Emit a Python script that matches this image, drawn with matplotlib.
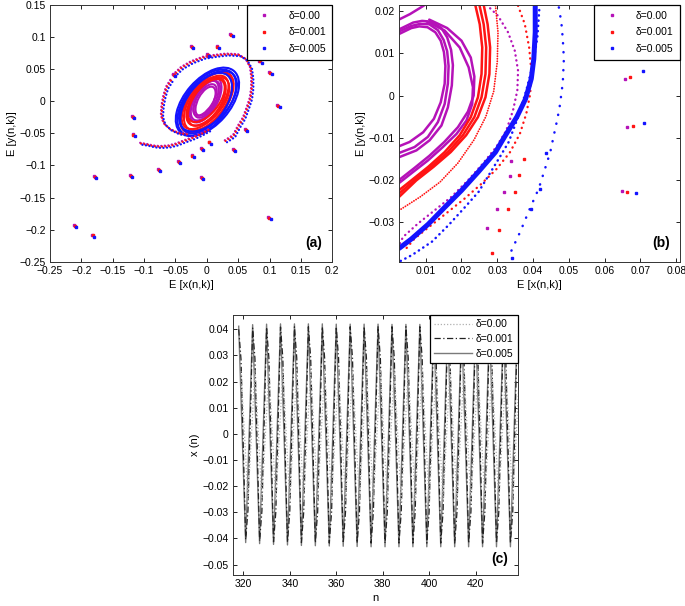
import matplotlib
matplotlib.use("Agg")
import matplotlib.pyplot as plt
from matplotlib.patches import Ellipse
from matplotlib.transforms import offset_copy
from matplotlib.ticker import MultipleLocator, FuncFormatter

plt.rcParams["font.family"] = ["Liberation Sans", "DejaVu Sans"]
plt.rcParams["font.size"] = 7.5

MAG = "#b512b8"
RED = "#ff1414"
BLU = "#1414ff"
labels = ["δ=0.00", "δ=0.001", "δ=0.005"]

# ---------------- panel (a) data ----------------
# ellipse rings: centre x, centre y, width, height, angle
mag_cx = [-0.002, -0.002, -0.001, -0.003, -0.002]
mag_cy = [0.002, 0.001, 0.003, 0.002, 0.000]
mag_w = [0.078, 0.070, 0.063, 0.056, 0.050]
mag_h = [0.038, 0.034, 0.030, 0.026, 0.024]
mag_ang = [60, 58, 62, 57, 61]

red_cx = [0.000, 0.002, -0.002, 0.001, 0.000, -0.001]
red_cy = [-0.002, 0.000, -0.003, 0.001, -0.001, 0.001]
red_w = [0.114, 0.106, 0.099, 0.092, 0.086, 0.080]
red_h = [0.058, 0.054, 0.050, 0.046, 0.043, 0.040]
red_ang = [50, 53, 48, 52, 55, 51]

blu_cx = [0.001, 0.000, 0.002, -0.001]
blu_cy = [-0.001, -0.002, 0.000, -0.003]
blu_w = [0.128, 0.122, 0.116, 0.110]
blu_h = [0.072, 0.067, 0.063, 0.060]
blu_ang = [48, 50, 46, 52]

# spiral arms (dotted)
armU_x = [-0.053, -0.040, -0.024, -0.005, 0.014, 0.032, 0.051, 0.063, 0.070, 0.072,
          0.072, 0.070, 0.065, 0.059, 0.051, 0.043, 0.030]
armU_y = [0.040, 0.052, 0.061, 0.068, 0.071, 0.073, 0.072, 0.065, 0.052, 0.037,
          0.021, 0.005, -0.010, -0.026, -0.039, -0.054, -0.062]
armL_x = [-0.057, -0.064, -0.068, -0.071, -0.072, -0.068, -0.058, -0.045, -0.030]
armL_y = [0.032, 0.021, 0.008, -0.007, -0.023, -0.035, -0.044, -0.050, -0.052]
armB_x = [-0.105, -0.0955, -0.085, -0.074, -0.060, -0.048, -0.035, -0.021, -0.008, 0.005]
armB_y = [-0.066, -0.0675, -0.070, -0.071, -0.070, -0.067, -0.062, -0.057, -0.051, -0.044]

# isolated points
pts_x = [0.039, -0.024, 0.017, 0.002, -0.053, 0.085, 0.101, 0.114, 0.062, 0.043,
         0.004, -0.008, -0.023, -0.045, -0.077, -0.121, -0.117, -0.118, -0.008,
         -0.179, -0.210, -0.182, 0.0995, 0.200]
pts_y = [0.103, 0.085, 0.085, 0.072, 0.041, 0.062, 0.044, -0.007, -0.045, -0.076,
         -0.064, -0.074, -0.085, -0.095, -0.107, -0.116, -0.052, -0.024, -0.120,
         -0.118, -0.194, -0.209, -0.182, 0.100]

# ---------------- panel (b) data ----------------
mb_top_x = [0.0025, 0.0056, 0.0083, 0.0111]
mb_top_y = [0.0180, 0.0193, 0.0207, 0.0222]
mb_loopA_x = [0.0026, 0.0060, 0.0085, 0.0110, 0.0134, 0.0150, 0.0160, 0.0164, 0.0162, 0.0153,
              0.0134, 0.0106, 0.0069, 0.0026]
mb_loopA_y = [0.0152, 0.0165, 0.0170, 0.0169, 0.0155, 0.0132, 0.0105, 0.0070, 0.0028, -0.0020,
              -0.0063, -0.0098, -0.0122, -0.0136]
mb_loopB_x = [0.0026, 0.0065, 0.0090, 0.0115, 0.0144, 0.0160, 0.0171, 0.0176, 0.0173, 0.0162,
              0.0144, 0.0111, 0.0074, 0.0026]
mb_loopB_y = [0.0157, 0.0173, 0.0177, 0.0175, 0.0160, 0.0138, 0.0108, 0.0072, 0.0024, -0.0028,
              -0.0071, -0.0106, -0.0130, -0.0146]
mb_loopC_x = [0.0026, 0.0060, 0.0082, 0.0105, 0.0127, 0.0142, 0.0151, 0.0155, 0.0153, 0.0142,
              0.0123, 0.0093, 0.0055, 0.0026]
mb_loopC_y = [0.0146, 0.0160, 0.0164, 0.0162, 0.0150, 0.0130, 0.0103, 0.0070, 0.0028, -0.0016,
              -0.0055, -0.0087, -0.0110, -0.0120]
mb_out1_x = [0.0102, 0.0153, 0.0195, 0.0220, 0.0232, 0.0230, 0.0214, 0.0186, 0.0148, 0.0106, 0.0065, 0.0026]
mb_out1_y = [0.0176, 0.0154, 0.0114, 0.0067, 0.0020, -0.0020, -0.0059, -0.0091, -0.0122, -0.0154, -0.0181, -0.0207]
mb_out2_x = [0.0026, 0.0068, 0.0110, 0.0152, 0.0190, 0.0218, 0.0234, 0.0236, 0.0226, 0.0200, 0.0160, 0.0110]
mb_out2_y = [-0.0200, -0.0172, -0.0143, -0.0110, -0.0075, -0.0038, 0.0000, 0.0045, 0.0090, 0.0130, 0.0160, 0.0180]

rb1_x = [0.0239, 0.0251, 0.0258, 0.0256, 0.0246, 0.0226, 0.0195, 0.0153, 0.0107, 0.0060, 0.0026]
rb1_y = [0.0213, 0.0169, 0.0114, 0.0051, -0.0004, -0.0051, -0.0094, -0.0134, -0.0169, -0.0201, -0.0224]
rb2_x = [0.0250, 0.0262, 0.0269, 0.0267, 0.0256, 0.0236, 0.0204, 0.0162, 0.0115, 0.0068, 0.0026]
rb2_y = [0.0215, 0.0169, 0.0114, 0.0051, -0.0004, -0.0051, -0.0094, -0.0134, -0.0169, -0.0201, -0.0232]
rb3_x = [0.0262, 0.0273, 0.0280, 0.0278, 0.0267, 0.0246, 0.0213, 0.0170, 0.0122, 0.0074, 0.0026]
rb3_y = [0.0215, 0.0169, 0.0114, 0.0051, -0.0004, -0.0051, -0.0094, -0.0134, -0.0169, -0.0201, -0.0240]
rb_thin_x = [0.0295, 0.0302, 0.0300, 0.0290, 0.0268, 0.0235, 0.0190, 0.0140, 0.0085, 0.0026]
rb_thin_y = [0.0213, 0.0150, 0.0080, 0.0010, -0.0050, -0.0105, -0.0160, -0.0205, -0.0240, -0.0272]

md_x = [0.0270, 0.0302, 0.0330, 0.0349, 0.0358, 0.0356, 0.0344, 0.0325, 0.0297, 0.0260,
        0.0218, 0.0172, 0.0125, 0.0079, 0.0037, 0.0028]
md_y = [0.0215, 0.0189, 0.0150, 0.0106, 0.0059, 0.0012, -0.0035, -0.0083, -0.0122, -0.0161,
        -0.0201, -0.0240, -0.0272, -0.0303, -0.0335, -0.0350]
rd_x = [0.0358, 0.0377, 0.0389, 0.0395, 0.0392, 0.0381, 0.0363, 0.0335, 0.0297, 0.0256,
        0.0209, 0.0162, 0.0116, 0.0069, 0.0046]
rd_y = [0.0213, 0.0169, 0.0114, 0.0059, 0.0004, -0.0043, -0.0091, -0.0135, -0.0175, -0.0209,
        -0.0244, -0.0276, -0.0307, -0.0339, -0.0362]

bb_x = [0.0026, 0.0060, 0.0107, 0.0153, 0.0200, 0.0248, 0.0295, 0.0323, 0.0355, 0.0379,
        0.0395, 0.0402, 0.0406, 0.0406]
bb_y = [-0.0362, -0.0340, -0.0305, -0.0265, -0.0225, -0.0180, -0.0134, -0.0094, -0.0050, -0.0008,
        0.0040, 0.0087, 0.0150, 0.0215]
bd1_x = [0.0030, 0.0062, 0.0118, 0.0164, 0.0206, 0.0248, 0.0276, 0.0304, 0.0332, 0.0358,
         0.0381, 0.0400, 0.0412, 0.0418]
bd1_y = [-0.0392, -0.0378, -0.0346, -0.0307, -0.0268, -0.0228, -0.0189, -0.0150, -0.0110, -0.0051,
         0.0012, 0.0075, 0.0138, 0.0213]
bd2_x = [0.0472, 0.0479, 0.0483, 0.0486, 0.0483, 0.0479, 0.0474, 0.0467, 0.0458, 0.0448,
         0.0432, 0.0416, 0.0390, 0.0364, 0.0330]
bd2_y = [0.0209, 0.0173, 0.0134, 0.0087, 0.0031, 0.0004, -0.0028, -0.0059, -0.0094, -0.0134,
         -0.0177, -0.0220, -0.0270, -0.0323, -0.0385]

# sparse points in (b)
bm_x = [0.0339, 0.0335, 0.0320, 0.0300, 0.0270, 0.0656, 0.0662, 0.0648]
bm_y = [-0.0155, -0.0190, -0.0228, -0.0268, -0.0313, 0.0039, -0.0075, -0.0227]
br_x = [0.0375, 0.0362, 0.0350, 0.0330, 0.0305, 0.0285, 0.0672, 0.0678, 0.0661]
br_y = [-0.0150, -0.0188, -0.0228, -0.0270, -0.0318, -0.0372, 0.0045, -0.0071, -0.0228]
bbl_x = [0.0437, 0.0418, 0.0393, 0.0340, 0.0707, 0.0710, 0.0688]
bbl_y = [-0.0135, -0.0222, -0.0270, -0.0385, 0.0059, -0.0065, -0.0230]

# ---------------- panel (c) data ----------------
n_peak = [318, 324, 330, 336, 342, 348, 354, 360, 366, 372, 378, 384, 390, 396, 402, 408,
          414, 420, 426, 432, 438]
n_trough = [321, 327, 333, 339, 345, 351, 357, 363, 369, 375, 381, 387, 393, 399, 405, 411,
            417, 423, 429, 435]
x005_peak = [0.0412, 0.0418, 0.0420, 0.0421, 0.0421, 0.0421, 0.0421, 0.0420, 0.0420, 0.0420,
             0.0420, 0.0419, 0.0419, 0.0419, 0.0419, 0.0418, 0.0418, 0.0418, 0.0418, 0.0418, 0.0418]
x005_trough = [-0.0416, -0.0420, -0.0423, -0.0425, -0.0427, -0.0428, -0.0429, -0.0430, -0.0431,
               -0.0432, -0.0432, -0.0432, -0.0432, -0.0432, -0.0432, -0.0432, -0.0432, -0.0432,
               -0.0432, -0.0432]
x001_peak = [0.0400, 0.0405, 0.0408, 0.0409, 0.0410, 0.0410, 0.0410, 0.0410, 0.0410, 0.0410,
             0.0410, 0.0410, 0.0410, 0.0410, 0.0410, 0.0410, 0.0410, 0.0410, 0.0410, 0.0410, 0.0410]
x001_hi = [0.0285, 0.0288, 0.0290, 0.0290, 0.0290, 0.0290, 0.0290, 0.0290, 0.0290, 0.0290,
           0.0290, 0.0290, 0.0290, 0.0290, 0.0290, 0.0290, 0.0290, 0.0290, 0.0290, 0.0290, 0.0290]
x001_trough = [-0.0405, -0.0410, -0.0413, -0.0415, -0.0416, -0.0417, -0.0418, -0.0418, -0.0418,
               -0.0418, -0.0418, -0.0418, -0.0418, -0.0418, -0.0418, -0.0418, -0.0418, -0.0418,
               -0.0418, -0.0418]
x001_lo = [-0.0292, -0.0295, -0.0297, -0.0298, -0.0298, -0.0298, -0.0298, -0.0298, -0.0298,
           -0.0298, -0.0298, -0.0298, -0.0298, -0.0298, -0.0298, -0.0298, -0.0298, -0.0298,
           -0.0298, -0.0298]
x000_peak = [0.0240, 0.0245, 0.0248, 0.0250, 0.0250, 0.0250, 0.0250, 0.0250, 0.0250, 0.0250,
             0.0250, 0.0250, 0.0250, 0.0250, 0.0250, 0.0250, 0.0250, 0.0250, 0.0250, 0.0250, 0.0250]
x000_trough = [-0.0250, -0.0255, -0.0258, -0.0260, -0.0260, -0.0260, -0.0260, -0.0260, -0.0260,
               -0.0260, -0.0260, -0.0260, -0.0260, -0.0260, -0.0260, -0.0260, -0.0260, -0.0260,
               -0.0260, -0.0260]


def fmt(v, pos):
    if abs(v) < 1e-9:
        return "0"
    s = "%g" % round(v, 4)
    return s.replace("-", "\u2212")


def style_axes(ax):
    ax.tick_params(direction="in", top=True, right=True, length=3, width=0.6, labelsize=7.5, pad=3)
    for sp in ax.spines.values():
        sp.set_linewidth(0.7)
        sp.set_color("#333333")
    ax.xaxis.set_major_formatter(FuncFormatter(fmt))
    ax.yaxis.set_major_formatter(FuncFormatter(fmt))


def dotted(ax, x, y, color, lw=1.8, gap=1.5, **kw):
    ax.plot(x, y, color=color, lw=lw, ls=(0, (0.1, gap)), dash_capstyle="round", **kw)


def dot_legend(ax):
    hs = [plt.Line2D([], [], ls="none", marker="s", ms=1.8, color=c, mec=c) for c in (MAG, RED, BLU)]
    leg = ax.legend(hs, labels, loc="upper right", fontsize=7.5, frameon=True, fancybox=False,
                    borderaxespad=0.0, handlelength=2.2, handletextpad=1.2, borderpad=0.6,
                    labelspacing=0.6, numpoints=1, framealpha=1)
    leg.get_frame().set_edgecolor("black")
    leg.get_frame().set_linewidth(0.9)


fig = plt.figure(figsize=(6.85, 6.06), dpi=100)

# ---------------- (a) ----------------
ax = fig.add_axes([0.073, 0.568, 0.412, 0.424])
tm = offset_copy(ax.transData, fig=fig, x=-0.8, y=0.8, units="dots")
tb = offset_copy(ax.transData, fig=fig, x=1.4, y=-1.2, units="dots")
for cx, cy, w, h, a in zip(mag_cx, mag_cy, mag_w, mag_h, mag_ang):
    ax.add_patch(Ellipse((cx, cy), w, h, angle=a, fill=False, ec=MAG, lw=1.5))
for cx, cy, w, h, a in zip(red_cx, red_cy, red_w, red_h, red_ang):
    ax.add_patch(Ellipse((cx, cy), w, h, angle=a, fill=False, ec=RED, lw=1.5))
for cx, cy, w, h, a in zip(blu_cx, blu_cy, blu_w, blu_h, blu_ang):
    ax.add_patch(Ellipse((cx, cy), w, h, angle=a, fill=False, ec=BLU, lw=1.5))
for ax_, ay_ in [(armU_x, armU_y), (armL_x, armL_y), (armB_x, armB_y)]:
    dotted(ax, ax_, ay_, MAG, lw=1.6, transform=tm)
    dotted(ax, ax_, ay_, RED, lw=1.6)
    dotted(ax, ax_, ay_, BLU, lw=1.6, transform=tb)
ax.plot(pts_x, pts_y, ls="none", marker="s", ms=2.0, color=MAG, mec=MAG, transform=tm)
ax.plot(pts_x, pts_y, ls="none", marker="s", ms=2.0, color=RED, mec=RED)
ax.plot(pts_x, pts_y, ls="none", marker="s", ms=2.0, color=BLU, mec=BLU, transform=tb)
ax.set_xlim(-0.25, 0.2)
ax.set_ylim(-0.25, 0.15)
ax.xaxis.set_major_locator(MultipleLocator(0.05))
ax.yaxis.set_major_locator(MultipleLocator(0.05))
style_axes(ax)
ax.set_xlabel("E [x(n,k)]", fontsize=8, labelpad=3)
ax.set_ylabel("E [y(n,k)]", fontsize=8, labelpad=2)
dot_legend(ax)
ax.text(0.965, 0.045, "(a)", transform=ax.transAxes, ha="right", va="bottom",
        fontsize=10, fontweight="bold")

# ---------------- (b) ----------------
bx = fig.add_axes([0.5825, 0.568, 0.410, 0.424])
for xs, ys in [(mb_top_x, mb_top_y), (mb_loopA_x, mb_loopA_y), (mb_loopB_x, mb_loopB_y),
               (mb_loopC_x, mb_loopC_y), (mb_out1_x, mb_out1_y), (mb_out2_x, mb_out2_y)]:
    bx.plot(xs, ys, color=MAG, lw=1.8, solid_capstyle="round", solid_joinstyle="round")
dotted(bx, md_x, md_y, MAG, lw=1.7, gap=2.0)
for xs, ys in [(rb1_x, rb1_y), (rb2_x, rb2_y), (rb3_x, rb3_y)]:
    bx.plot(xs, ys, color=RED, lw=1.8, solid_capstyle="round", solid_joinstyle="round")
dotted(bx, rb_thin_x, rb_thin_y, RED, lw=1.3, gap=1.3)
dotted(bx, rd_x, rd_y, RED, lw=1.7, gap=2.2)
bx.plot(bb_x, bb_y, color=BLU, lw=3.6, solid_capstyle="round", solid_joinstyle="round")
dotted(bx, bd1_x, bd1_y, BLU, lw=1.8, gap=2.0)
dotted(bx, bd2_x, bd2_y, BLU, lw=1.8, gap=3.5)
bx.plot(bm_x, bm_y, ls="none", marker="s", ms=2.0, color=MAG, mec=MAG)
bx.plot(br_x, br_y, ls="none", marker="s", ms=2.0, color=RED, mec=RED)
bx.plot(bbl_x, bbl_y, ls="none", marker="s", ms=2.0, color=BLU, mec=BLU)
bx.set_xlim(0.00255, 0.081)
bx.set_ylim(-0.0394, 0.0215)
bx.xaxis.set_major_locator(MultipleLocator(0.01))
bx.yaxis.set_major_locator(MultipleLocator(0.01))
style_axes(bx)
bx.set_xlabel("E [x(n,k)]", fontsize=8, labelpad=3)
bx.set_ylabel("E [y(n,k)]", fontsize=8, labelpad=2)
dot_legend(bx)
bx.text(0.965, 0.045, "(b)", transform=bx.transAxes, ha="right", va="bottom",
        fontsize=10, fontweight="bold")

# ---------------- (c) ----------------
cx_ = fig.add_axes([0.340, 0.0512, 0.416, 0.429])

peaks005 = dict(zip(n_peak, x005_peak))
troughs005 = dict(zip(n_trough, x005_trough))
n005 = sorted(n_peak + n_trough)
v005 = [peaks005[n] if n in peaks005 else troughs005[n] for n in n005]

pairs001 = list(zip(n_peak, x001_peak)) + list(zip([n + 1 for n in n_peak], x001_hi)) + \
    list(zip(n_trough, x001_trough)) + list(zip([n + 1 for n in n_trough], x001_lo))
pairs001.sort()
pairs000 = list(zip([n + 1 for n in n_peak], x000_peak)) + \
    list(zip([n + 1 for n in n_trough], x000_trough))
pairs000.sort()

l3, = cx_.plot(n005, v005, color="#7a7a7a", lw=1.0)
l2, = cx_.plot([p[0] for p in pairs001], [p[1] for p in pairs001], color="#222222",
               lw=0.9, ls=(0, (5, 2, 1, 2)))
l1, = cx_.plot([p[0] for p in pairs000], [p[1] for p in pairs000], color="#b0b0b0",
               lw=0.9, ls=(0, (1, 1.5)))
cx_.set_xlim(315.5, 438.2)
cx_.set_ylim(-0.054, 0.0455)
cx_.xaxis.set_major_locator(MultipleLocator(20))
cx_.yaxis.set_major_locator(MultipleLocator(0.01))
style_axes(cx_)
cx_.set_xlabel("n", fontsize=8, labelpad=3)
cx_.set_ylabel("x (n)", fontsize=8, labelpad=2)
leg = cx_.legend([l1, l2, l3], labels, loc="upper right", fontsize=7.5, frameon=True,
                 fancybox=False, borderaxespad=0.0, handlelength=3.6, handletextpad=0.4,
                 borderpad=0.4, labelspacing=0.45, framealpha=1)
leg.get_frame().set_edgecolor("black")
leg.get_frame().set_linewidth(0.9)
cx_.text(0.965, 0.035, "(c)", transform=cx_.transAxes, ha="right", va="bottom",
         fontsize=10, fontweight="bold")

fig.savefig("out.png", dpi=100)
